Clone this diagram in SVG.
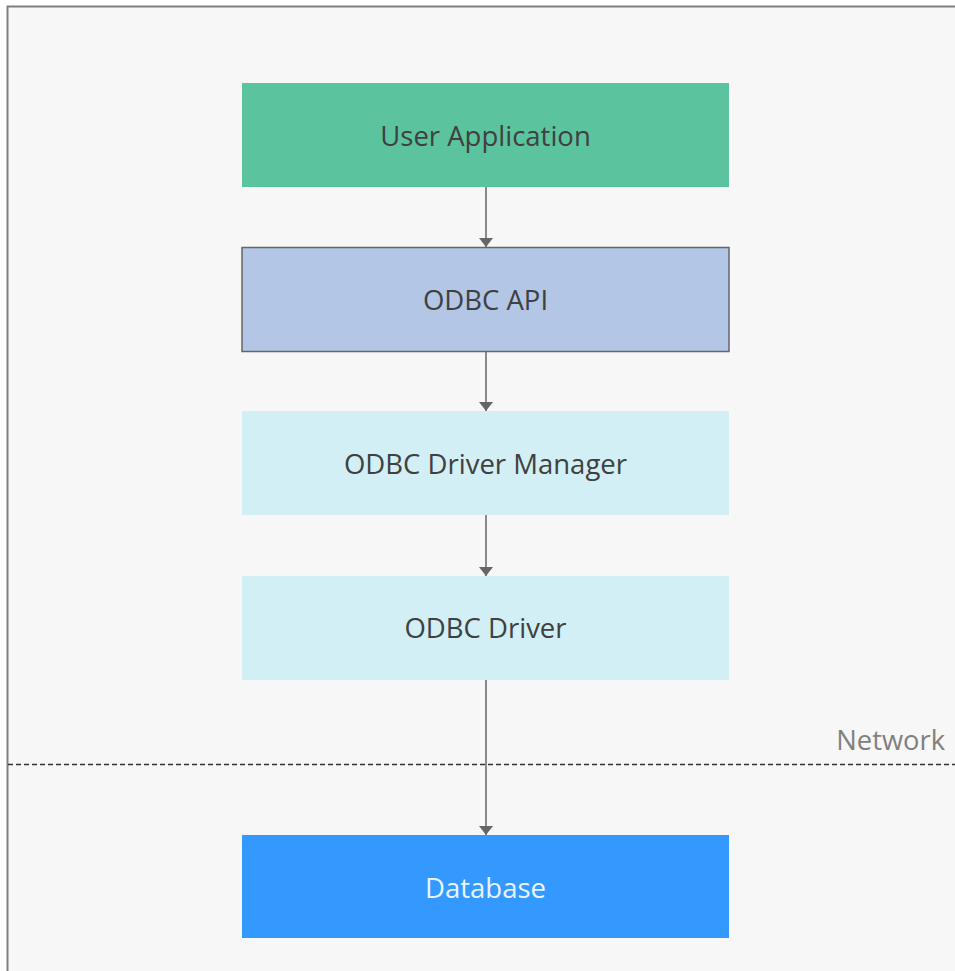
<svg xmlns="http://www.w3.org/2000/svg" width="955" height="971" viewBox="0 0 955 971">
  <style>
    .box { stroke: none; }
    .label { font-family: "Open Sans", "Noto Sans", sans-serif; font-size: 27.5px; text-anchor: middle; dominant-baseline: central; fill: #404040; }
    .link { stroke: #666666; stroke-width: 1.5; fill: none; marker-end: url(#arrow); }
  </style>
  <defs>
    <marker id="arrow" viewBox="0 0 9 14" refX="9" refY="7" markerWidth="9" markerHeight="14" markerUnits="userSpaceOnUse" orient="auto">
      <path d="M0,0 L9,7 L0,14 Z" fill="#666666"/>
    </marker>
  </defs>

  <!-- frame -->
  <rect x="0" y="0" width="955" height="971" fill="#ffffff"/>
  <rect x="7.5" y="6.5" width="960" height="980" fill="#f7f7f7" stroke="#808080" stroke-width="2"/>

  <!-- network boundary -->
  <line x1="8" y1="764.5" x2="955" y2="764.5" stroke="#333333" stroke-width="1.4" stroke-dasharray="5,3"/>
  <text x="945" y="739" font-family="'Open Sans', 'Noto Sans', sans-serif" font-size="27.3" fill="#808080" text-anchor="end" dominant-baseline="central">Network</text>

  <g id="user-application">
    <rect class="box" x="242" y="83" width="487" height="104" fill="#5bc49f"/>
    <text class="label" x="485.5" y="135">User Application</text>
  </g>
  <g id="odbc-api">
    <rect x="242" y="247.5" width="487" height="104" fill="#b3c6e5" stroke="#666666" stroke-width="1.5"/>
    <text class="label" x="485.5" y="299">ODBC API</text>
  </g>
  <g id="odbc-driver-manager">
    <rect class="box" x="242" y="411" width="487" height="104" fill="#d1eff4"/>
    <text class="label" x="485.5" y="463">ODBC Driver Manager</text>
  </g>
  <g id="odbc-driver">
    <rect class="box" x="242" y="576" width="487" height="104" fill="#d1eff4"/>
    <text class="label" x="485.5" y="627">ODBC Driver</text>
  </g>
  <g id="database">
    <rect class="box" x="242" y="835" width="487" height="103" fill="#3399ff"/>
    <text class="label" x="485.5" y="887" style="fill:#eaf4ff">Database</text>
  </g>

  <g id="connectors">
    <line class="link" x1="486" y1="187" x2="486" y2="247"/>
    <line class="link" x1="486" y1="352" x2="486" y2="411"/>
    <line class="link" x1="486" y1="515" x2="486" y2="576"/>
    <line class="link" x1="486" y1="680" x2="486" y2="835"/>
  </g>
</svg>
